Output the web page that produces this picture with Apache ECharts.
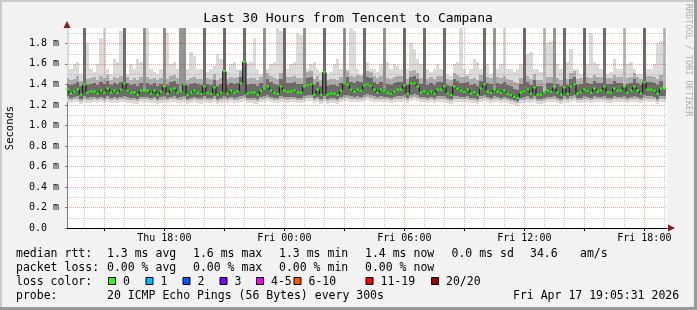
<!DOCTYPE html>
<html><head><meta charset="utf-8">
<script src="https://cdn.jsdelivr.net/npm/echarts@6/dist/echarts.min.js"></script>
<style>html,body{margin:0;padding:0;background:#f2f2f2}#c{width:697px;height:310px}</style>
</head><body><div id="c"></div>
<script>
// ---- data (values in ms) ----
const startHour = 13 + 10 / 60;   // Thu 13:10, 10-minute steps
const stepHour = 1 / 6;
const xMin = 13 + 8 / 60, xMax = 43 + 8 / 60;
const med = [
1.35,1.31,1.33,1.35,1.30,1.40,1.32,1.33,1.33,1.31,1.34,1.32,
1.36,1.32,1.34,1.32,1.35,1.41,1.34,1.32,1.32,1.30,1.34,1.34,
1.34,1.31,1.34,1.30,1.33,1.38,1.31,1.35,1.36,1.32,1.33,1.40,
1.30,1.32,1.34,1.32,1.31,1.38,1.32,1.31,1.37,1.30,1.32,1.53,
1.31,1.34,1.32,1.33,1.41,1.62,1.31,1.32,1.32,1.30,1.34,1.36,
1.38,1.34,1.32,1.31,1.38,1.34,1.33,1.33,1.34,1.32,1.32,1.38,
1.39,1.40,1.30,1.35,1.30,1.52,1.30,1.31,1.31,1.30,1.34,1.41,
1.40,1.35,1.33,1.35,1.34,1.39,1.40,1.39,1.35,1.32,1.35,1.34,
1.32,1.31,1.33,1.35,1.35,1.39,1.31,1.41,1.41,1.38,1.32,1.33,
1.31,1.33,1.31,1.35,1.35,1.38,1.31,1.30,1.38,1.36,1.34,1.33,
1.35,1.31,1.32,1.30,1.36,1.40,1.33,1.32,1.35,1.33,1.32,1.34,
1.31,1.30,1.28,1.27,1.32,1.33,1.35,1.31,1.37,1.30,1.30,1.32,
1.34,1.33,1.37,1.32,1.30,1.37,1.31,1.38,1.40,1.31,1.32,1.35,
1.34,1.32,1.36,1.33,1.34,1.38,1.32,1.32,1.36,1.34,1.34,1.38,
1.32,1.34,1.38,1.34,1.31,1.42,1.35,1.35,1.34,1.31,1.36,1.36];
const coreLo = [
1.29,1.27,1.28,1.29,1.26,1.29,1.27,1.28,1.28,1.27,1.28,1.27,
1.29,1.27,1.28,1.27,1.28,1.29,1.28,1.27,1.27,1.26,1.28,1.28,
1.28,1.27,1.28,1.26,1.28,1.29,1.27,1.28,1.29,1.27,1.28,1.29,
1.26,1.27,1.28,1.27,1.27,1.29,1.27,1.27,1.29,1.26,1.27,1.29,
1.27,1.28,1.27,1.28,1.29,1.30,1.27,1.27,1.27,1.26,1.28,1.29,
1.30,1.28,1.27,1.27,1.29,1.28,1.28,1.28,1.28,1.27,1.27,1.29,
1.30,1.30,1.27,1.28,1.26,1.29,1.26,1.27,1.27,1.26,1.28,1.30,
1.30,1.29,1.28,1.29,1.28,1.30,1.31,1.30,1.29,1.28,1.29,1.28,
1.28,1.27,1.28,1.29,1.29,1.30,1.27,1.30,1.31,1.30,1.28,1.28,
1.27,1.28,1.27,1.29,1.29,1.29,1.27,1.26,1.29,1.29,1.28,1.28,
1.29,1.27,1.27,1.26,1.29,1.30,1.28,1.27,1.29,1.28,1.27,1.28,
1.27,1.26,1.25,1.24,1.27,1.28,1.29,1.27,1.29,1.26,1.26,1.27,
1.28,1.28,1.29,1.27,1.26,1.29,1.27,1.29,1.30,1.27,1.27,1.29,
1.28,1.27,1.29,1.28,1.28,1.29,1.27,1.27,1.29,1.28,1.28,1.29,
1.27,1.28,1.29,1.28,1.27,1.30,1.29,1.29,1.28,1.26,1.29,1.29];
const coreHi = [
1.40,1.39,1.40,1.42,1.38,1.46,1.39,1.40,1.41,1.39,1.42,1.40,
1.43,1.39,1.41,1.40,1.42,1.47,1.41,1.39,1.40,1.38,1.41,1.42,
1.41,1.39,1.41,1.38,1.40,1.45,1.39,1.42,1.43,1.40,1.41,1.46,
1.38,1.40,1.41,1.40,1.39,1.45,1.40,1.39,1.44,1.38,1.40,1.60,
1.39,1.41,1.40,1.41,1.47,1.68,1.39,1.40,1.40,1.38,1.41,1.43,
1.45,1.42,1.40,1.39,1.45,1.42,1.41,1.41,1.42,1.40,1.40,1.45,
1.46,1.47,1.39,1.42,1.38,1.58,1.38,1.39,1.39,1.38,1.41,1.47,
1.47,1.42,1.41,1.43,1.42,1.46,1.47,1.46,1.42,1.40,1.42,1.42,
1.40,1.39,1.41,1.42,1.42,1.46,1.39,1.47,1.48,1.45,1.40,1.41,
1.39,1.41,1.39,1.42,1.42,1.45,1.39,1.38,1.45,1.43,1.41,1.41,
1.42,1.39,1.40,1.38,1.43,1.47,1.41,1.40,1.42,1.41,1.40,1.42,
1.39,1.38,1.36,1.35,1.40,1.41,1.42,1.39,1.44,1.38,1.38,1.40,
1.41,1.41,1.44,1.40,1.38,1.44,1.39,1.45,1.47,1.39,1.40,1.42,
1.41,1.40,1.43,1.41,1.41,1.45,1.40,1.40,1.43,1.41,1.41,1.45,
1.40,1.41,1.45,1.41,1.39,1.48,1.42,1.42,1.41,1.39,1.43,1.43];
const midLo = [
1.26,1.25,1.26,1.26,1.24,1.26,1.25,1.25,1.26,1.25,1.26,1.25,
1.26,1.25,1.26,1.25,1.26,1.26,1.25,1.25,1.25,1.24,1.26,1.26,
1.26,1.25,1.26,1.24,1.25,1.26,1.25,1.26,1.26,1.25,1.25,1.26,
1.24,1.25,1.26,1.25,1.25,1.26,1.25,1.25,1.26,1.24,1.25,1.26,
1.25,1.26,1.25,1.25,1.26,1.27,1.25,1.25,1.25,1.24,1.26,1.26,
1.27,1.26,1.25,1.25,1.26,1.26,1.25,1.26,1.26,1.25,1.25,1.26,
1.27,1.27,1.25,1.26,1.24,1.26,1.24,1.25,1.25,1.24,1.26,1.27,
1.27,1.26,1.26,1.26,1.26,1.27,1.28,1.27,1.26,1.26,1.26,1.26,
1.26,1.25,1.26,1.26,1.26,1.27,1.25,1.27,1.28,1.27,1.26,1.26,
1.25,1.26,1.25,1.26,1.26,1.26,1.25,1.24,1.26,1.26,1.26,1.26,
1.26,1.25,1.25,1.24,1.26,1.27,1.26,1.25,1.26,1.26,1.25,1.26,
1.25,1.24,1.23,1.22,1.25,1.25,1.26,1.25,1.26,1.24,1.24,1.25,
1.26,1.26,1.26,1.25,1.24,1.26,1.25,1.26,1.27,1.25,1.25,1.26,
1.26,1.25,1.26,1.26,1.26,1.26,1.25,1.25,1.26,1.26,1.26,1.26,
1.25,1.26,1.26,1.26,1.25,1.27,1.26,1.26,1.26,1.24,1.26,1.26];
const midHi = [
1.46,1.44,1.45,1.48,1.43,1.52,1.45,1.46,1.47,1.44,1.48,1.46,
1.49,1.44,1.47,1.46,1.48,1.53,1.47,1.44,1.46,1.44,1.47,1.48,
1.47,1.45,1.46,1.44,1.46,1.51,1.45,1.48,1.49,1.46,1.47,1.52,
1.44,1.46,1.47,1.45,1.45,1.51,1.46,1.45,1.50,1.44,1.46,1.66,
1.45,1.47,1.46,1.47,1.53,1.74,1.45,1.46,1.46,1.44,1.47,1.49,
1.51,1.48,1.46,1.45,1.51,1.48,1.47,1.47,1.48,1.46,1.46,1.51,
1.52,1.53,1.45,1.48,1.44,1.64,1.44,1.45,1.45,1.44,1.47,1.53,
1.53,1.48,1.47,1.49,1.48,1.52,1.53,1.52,1.48,1.46,1.48,1.48,
1.46,1.45,1.47,1.48,1.48,1.52,1.45,1.53,1.54,1.51,1.46,1.47,
1.45,1.47,1.45,1.48,1.48,1.51,1.45,1.44,1.51,1.49,1.47,1.47,
1.48,1.45,1.46,1.44,1.49,1.53,1.47,1.46,1.48,1.47,1.46,1.48,
1.45,1.44,1.42,1.41,1.46,1.47,1.48,1.45,1.50,1.44,1.44,1.46,
1.47,1.47,1.50,1.46,1.44,1.50,1.45,1.51,1.53,1.45,1.46,1.48,
1.47,1.46,1.49,1.47,1.47,1.51,1.46,1.46,1.49,1.47,1.47,1.51,
1.46,1.47,1.51,1.47,1.45,1.54,1.48,1.48,1.47,1.45,1.49,1.49];
const minV = [
1.23,1.22,1.23,1.23,1.21,1.23,1.22,1.22,1.23,1.22,1.23,1.22,
1.23,1.22,1.22,1.22,1.23,1.23,1.22,1.22,1.21,1.21,1.23,1.22,
1.23,1.22,1.22,1.21,1.22,1.23,1.22,1.23,1.23,1.22,1.22,1.23,
1.21,1.22,1.23,1.22,1.21,1.23,1.22,1.22,1.23,1.21,1.22,1.23,
1.22,1.23,1.22,1.22,1.23,1.24,1.22,1.22,1.21,1.21,1.23,1.23,
1.24,1.23,1.22,1.22,1.23,1.23,1.22,1.23,1.23,1.22,1.22,1.23,
1.24,1.24,1.22,1.23,1.21,1.23,1.21,1.22,1.22,1.21,1.23,1.24,
1.24,1.23,1.23,1.23,1.23,1.24,1.25,1.24,1.23,1.23,1.23,1.23,
1.23,1.22,1.23,1.23,1.23,1.24,1.22,1.24,1.25,1.24,1.23,1.23,
1.22,1.23,1.22,1.23,1.23,1.23,1.22,1.21,1.23,1.23,1.23,1.23,
1.23,1.22,1.22,1.21,1.23,1.24,1.23,1.22,1.23,1.23,1.22,1.23,
1.22,1.21,1.20,1.19,1.22,1.22,1.23,1.22,1.23,1.21,1.21,1.22,
1.23,1.23,1.23,1.22,1.21,1.23,1.22,1.23,1.24,1.22,1.22,1.23,
1.23,1.22,1.23,1.23,1.23,1.23,1.22,1.22,1.23,1.23,1.23,1.23,
1.22,1.23,1.23,1.23,1.22,1.24,1.23,1.23,1.23,1.21,1.23,1.23];
const maxV = [
1.95,1.55,1.60,1.62,1.50,1.55,1.80,1.55,1.52,1.60,1.85,1.95,
1.55,1.50,1.65,1.62,1.92,1.60,1.50,1.60,1.55,1.65,1.62,1.55,
1.95,1.55,1.52,1.50,1.55,1.60,1.90,1.60,1.62,1.55,1.58,1.60,
1.55,1.72,1.68,1.55,1.55,1.60,1.52,1.55,1.58,1.70,1.65,1.60,
1.52,1.60,1.62,1.55,1.55,1.70,1.60,1.62,1.85,1.55,1.50,1.60,
1.55,1.60,1.62,1.95,1.92,1.60,1.55,1.60,1.62,1.90,1.88,1.60,
1.55,1.60,1.62,1.55,1.52,1.60,1.50,1.52,1.60,1.65,1.55,1.60,
1.55,1.95,1.92,1.55,1.50,1.60,1.62,1.55,1.55,1.52,1.60,1.95,
1.62,1.55,1.60,1.58,1.55,1.60,1.55,1.80,1.75,1.65,1.60,1.60,
1.55,1.52,1.55,1.60,1.55,1.60,1.50,1.48,1.60,1.62,1.95,1.55,
1.50,1.55,1.65,1.62,1.55,1.60,1.60,1.50,1.60,1.55,1.60,1.95,
1.55,1.55,1.52,1.55,1.60,1.60,1.70,1.72,1.55,1.55,1.52,1.95,
1.80,1.82,1.60,1.60,1.55,1.60,1.62,1.75,1.55,1.55,1.50,1.60,
1.60,1.90,1.62,1.60,1.55,1.60,1.50,1.52,1.65,1.55,1.55,1.95,
1.60,1.62,1.55,1.50,1.50,1.60,1.55,1.55,1.60,1.80,1.82,1.95];
// hourly outliers reaching above the chart top: sample index, density level (1 light .. 3 dense), top value
const spikeIdx   = [5,17,23,29,34,35,41,47,53,59,65,71,77,83,89,95,101,107,113,125,128,137,143,146,149,155,161,167,173,179];
const spikeLevel = [3,3,2,2,2,2,3,3,3,2,3,2,3,2,3,2,3,3,3,3,2,3,1,2,3,3,3,1,3,1];
const spikeTop   = [2.6,2.6,2.4,2.5,2.3,2.3,2.6,2.6,2.7,2.4,2.6,2.4,2.6,2.5,2.6,2.4,2.6,2.6,2.6,2.6,2.4,2.6,2.3,2.4,2.6,2.6,2.6,2.3,2.6,2.3];
// axes
const xGridHours = [14,15,16,17,18,19,20,21,22,23,24,25,26,27,28,29,30,31,32,33,34,35,36,37,38,39,40,41,42,43];
const xTickHours = [15,18,21,24,27,30,33,36,39,42];
const xLabelHours = [18,24,30,36,42];
const xLabelText = ['Thu 18:00','Fri 00:00','Fri 06:00','Fri 12:00','Fri 18:00'];
const yGrid = [0.1,0.2,0.3,0.4,0.5,0.6,0.7,0.8,0.9,1.0,1.1,1.2,1.3,1.4,1.5,1.6,1.7,1.8,1.9];
const yLabelValues = [0,0.2,0.4,0.6,0.8,1.0,1.2,1.4,1.6,1.8];
// legend text
const titleText = 'Last 30 Hours from Tencent to Campana';
const lossLabels = ['0','1','2','3','4-5','6-10','11-19','20/20'];
const lossColors = ['#26ff00','#00b8ff','#0059ff','#7e00ff','#ff00ff','#ff5500','#ff0000','#a10000'];

const hours = med.map((_, i) => startHour + i * stepHour);
const MONO = '"DejaVu Sans Mono", monospace';
const chart = echarts.init(document.getElementById('c'), null, {renderer: 'canvas'});

function clipTo(cs, r) {
  return echarts.graphic.clipRectByRect(r, {x: cs.x, y: cs.y, width: cs.width, height: cs.height});
}
function bandSeries(lo, hi, color) {
  return {
    type: 'custom', z: 2, silent: true, animation: false,
    data: hours.map((h, i) => [h, lo[i], hi[i]]),
    encode: {x: 0, y: [1, 2]},
    renderItem(params, api) {
      const h = api.value(0);
      const p1 = api.coord([h - stepHour / 2, api.value(2)]);
      const p2 = api.coord([h + stepHour / 2, api.value(1)]);
      const x1 = Math.round(p1[0]), x2 = Math.round(p2[0]);
      const y1 = Math.round(p1[1]), y2 = Math.round(p2[1]);
      const r = clipTo(params.coordSys, {x: x1, y: y1, width: x2 - x1, height: y2 - y1});
      return r && {type: 'rect', shape: r, style: {fill: color}};
    }
  };
}
const spikeColors = {1: '#bdbdbd', 2: '#959595', 3: '#6e6e6e'};
const spikeSeries = {
  type: 'custom', z: 2, silent: true, animation: false,
  data: spikeIdx.map((i, k) => [hours[i], med[i], spikeTop[k], spikeLevel[k]]),
  encode: {x: 0, y: [1, 2]},
  renderItem(params, api) {
    const h = api.value(0);
    const p1 = api.coord([h - stepHour / 2, api.value(2)]);
    const p2 = api.coord([h + stepHour / 2, api.value(1)]);
    const x1 = Math.round(p1[0]), x2 = Math.round(p2[0]);
    const r = clipTo(params.coordSys, {x: x1, y: p1[1], width: x2 - x1, height: p2[1] - p1[1]});
    return r && {type: 'rect', shape: r, style: {fill: spikeColors[api.value(3)]}};
  }
};
const MAJOR = 'rgba(232,0,0,0.36)', MINOR = 'rgba(110,110,110,0.33)';
const vGridSeries = {
  type: 'custom', z: 3, silent: true, animation: false,
  data: xGridHours.map(h => [h, 1]),
  encode: {x: 0, y: 1},
  renderItem(params, api) {
    const h = api.value(0);
    const cs = params.coordSys;
    const x = Math.round(api.coord([h, 0])[0]) + 0.5;
    const major = h % 3 === 0;
    return {type: 'line', shape: {x1: x, y1: cs.y, x2: x, y2: cs.y + cs.height},
      style: {stroke: major ? MAJOR : MINOR, lineWidth: 1, lineDash: [1, 1]}};
  }
};
const hGridSeries = {
  type: 'custom', z: 3, silent: true, animation: false,
  data: yGrid.map(v => [xMin, v]),
  encode: {x: 0, y: 1},
  renderItem(params, api) {
    const v = api.value(1);
    const cs = params.coordSys;
    const y = Math.round(api.coord([xMin, v])[1]) + 0.5;
    const major = Math.round(v * 10) % 2 === 0;
    return {type: 'line', shape: {x1: cs.x, y1: y, x2: cs.x + cs.width, y2: y},
      style: {stroke: major ? MAJOR : MINOR, lineWidth: 1, lineDash: [1, 1]}};
  }
};

const g = [];
// frame
g.push({type: 'rect', shape: {x: 0, y: 0, width: 697, height: 2}, style: {fill: '#cbcbcb'}, silent: true});
g.push({type: 'rect', shape: {x: 0, y: 0, width: 2, height: 310}, style: {fill: '#cbcbcb'}, silent: true});
g.push({type: 'rect', shape: {x: 694, y: 0, width: 3, height: 310}, style: {fill: '#999999'}, silent: true});
g.push({type: 'rect', shape: {x: 0, y: 307, width: 697, height: 3}, style: {fill: '#999999'}, silent: true});
// arrows
g.push({type: 'polygon', shape: {points: [[63.5, 28], [70.5, 28], [67, 21]]}, style: {fill: '#8b1a1a'}, silent: true, z: 10});
g.push({type: 'polygon', shape: {points: [[668, 224.5], [668, 231.5], [675, 228]]}, style: {fill: '#8b1a1a'}, silent: true, z: 10});
// title & side text
g.push({type: 'text', x: 348, y: 19, style: {text: titleText, font: '13px ' + MONO, fill: '#000', textAlign: 'center', textVerticalAlign: 'middle'}});
g.push({type: 'text', x: 688, y: 60, rotation: -Math.PI / 2, style: {text: 'RRDTOOL / TOBI OETIKER', font: '8.5px ' + MONO, fill: '#b0b0b0', textAlign: 'center', textVerticalAlign: 'middle'}});
function txt(s, x, y) {
  g.push({type: 'text', x: x, y: y, style: {text: s, font: '11.5px ' + MONO, fill: '#000', textAlign: 'left', textVerticalAlign: 'middle'}});
}
txt('median rtt:', 16, 254);
txt('1.3 ms avg', 107, 254); txt('1.6 ms max', 193, 254); txt('1.3 ms min', 279, 254);
txt('1.4 ms now', 365, 254); txt('0.0 ms sd', 451.5, 254); txt('34.6', 530, 254); txt('am/s', 580, 254);
txt('packet loss:', 16, 268);
txt('0.00 % avg', 107, 268); txt('0.00 % max', 193, 268); txt('0.00 % min', 279, 268); txt('0.00 % now', 365, 268);
txt('loss color:', 16, 282);
const boxX = [108, 145.5, 182.5, 219.5, 256, 293.5, 365.5, 431];
lossLabels.forEach((l, k) => {
  g.push({type: 'rect', shape: {x: boxX[k] + 0.5, y: 277.5, width: 7, height: 7}, style: {fill: lossColors[k], stroke: '#000', lineWidth: 1}});
  txt(l, boxX[k] + 15, 282);
});
txt('probe:', 16, 296);
txt('20 ICMP Echo Pings (56 Bytes) every 300s', 107, 296);
txt('Fri Apr 17 19:05:31 2026', 513, 296);

chart.setOption({
  backgroundColor: '#f2f2f2',
  animation: false,
  grid: {left: 67, right: 30, top: 28, bottom: 82, outerBoundsMode: 'none', containLabel: false,
    show: true, backgroundColor: '#ffffff', borderWidth: 0},
  xAxis: {
    type: 'value', min: xMin, max: xMax,
    axisLine: {show: true, onZero: false, lineStyle: {color: '#000', width: 1}},
    axisTick: {show: true, length: 3, customValues: xTickHours, lineStyle: {color: '#000'}},
    axisLabel: {customValues: xLabelHours, margin: 5, color: '#000', fontFamily: MONO, fontSize: 10,
      formatter: v => { const k = xLabelHours.indexOf(Math.round(v)); return k >= 0 ? xLabelText[k] : ''; }},
    splitLine: {show: false}
  },
  yAxis: {
    type: 'value', min: 0, max: 1.95,
    name: 'Seconds', nameLocation: 'middle', nameGap: 51, nameRotate: 90,
    nameTextStyle: {fontFamily: MONO, fontSize: 10.5, color: '#000'},
    axisLine: {show: true, lineStyle: {color: '#808080', width: 1}},
    axisTick: {show: true, length: 2, customValues: yLabelValues, lineStyle: {color: '#808080'}},
    axisLabel: {customValues: yLabelValues, margin: 8, color: '#000', fontFamily: MONO, fontSize: 10,
      formatter: v => v === 0 ? '0.0  ' : v.toFixed(1) + ' m'},
    splitLine: {show: false}
  },
  series: [
    bandSeries(minV, maxV, '#dadada'),
    bandSeries(midLo, midHi, '#ababab'),
    bandSeries(coreLo, coreHi, '#6c6c6c'),
    spikeSeries,
    hGridSeries,
    vGridSeries,
    {
      type: 'line', z: 5, silent: true, animation: false, step: 'middle',
      data: hours.map((h, i) => [h, med[i]]),
      symbol: 'rect', symbolSize: [3, 2], showSymbol: true,
      itemStyle: {color: '#26ff00'},
      lineStyle: {color: '#111', width: 1}
    }
  ],
  graphic: {elements: g}
});
</script></body></html>
